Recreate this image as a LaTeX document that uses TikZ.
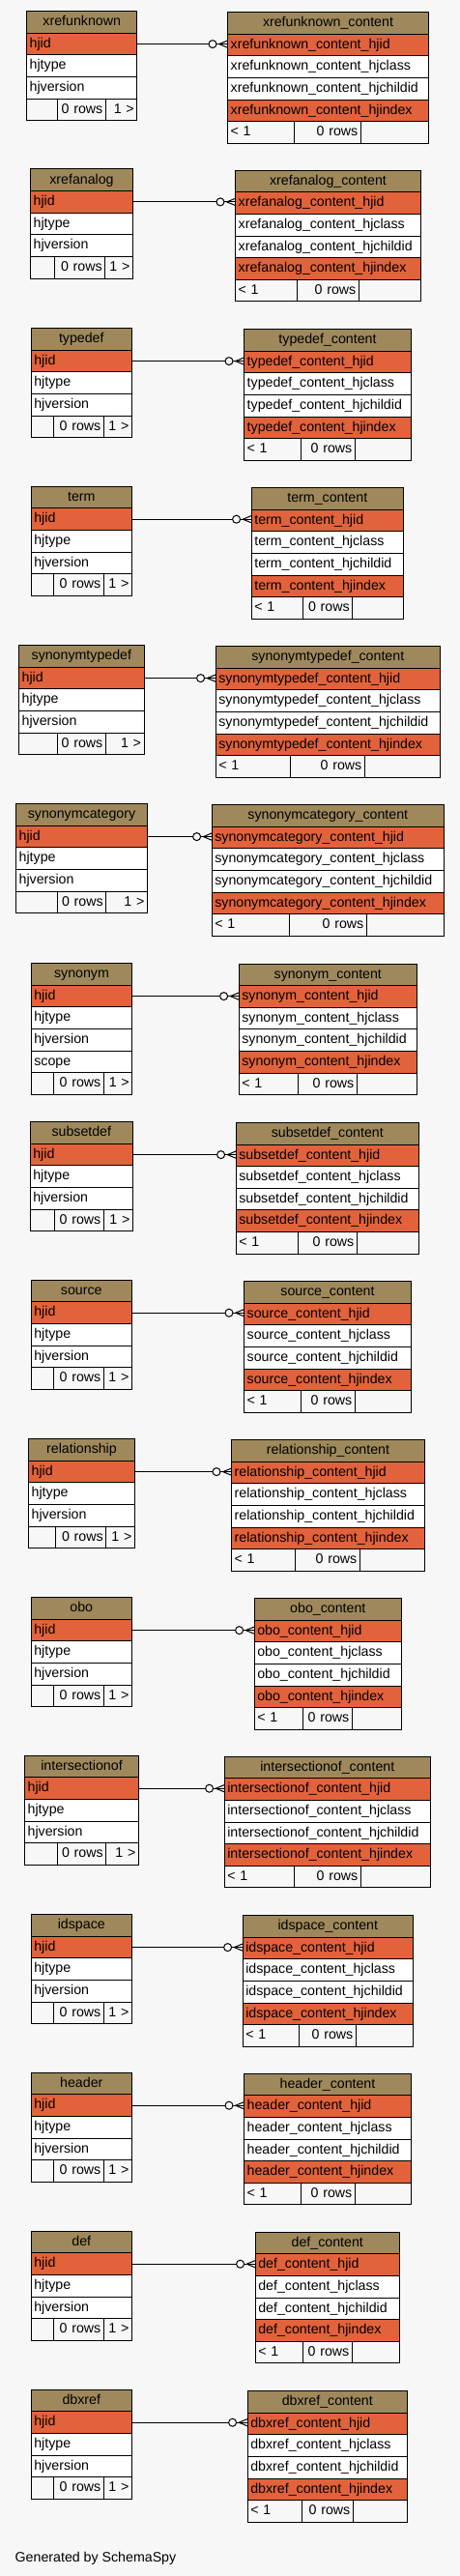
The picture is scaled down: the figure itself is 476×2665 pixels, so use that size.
\documentclass[tikz,border=0pt]{standalone}
\usepackage{fontspec}
\setmainfont{Liberation Sans}
\hyphenpenalty=10000

\definecolor{bgcol}{HTML}{F7F7F7}
\definecolor{headcol}{HTML}{9F895C}
\definecolor{keycol}{HTML}{E2623B}

\tikzset{
    cell/.style={draw, line width=1pt, outer sep=0pt, inner xsep=3pt, inner ysep=0pt,
        minimum height=22.6pt, text height=10.5pt, text depth=3pt,
        font=\fontsize{14.2pt}{17pt}\selectfont},
    headcell/.style={cell, fill=headcol, align=center},
    rowcell/.style={cell, align=left},
    footcell/.style={cell, fill=bgcol},
    link/.style={line width=1pt},
}

% header and column rows of one table
\newcommand\tablebody[6]{%
    \pgfmathsetmacro\tw{#4-#3-6}
    \node[headcell, text width=\tw pt, anchor=north west] (#1-0) at (#3,#5) {#2};
    \foreach \txt/\col [count=\i, remember=\i as \j (initially 0)] in {#6} {
        \node[rowcell, fill=\col, text width=\tw pt, anchor=north west] (#1-\i) at (#1-\j.south west) {\txt};
        \xdef\lastrow{#1-\i}
    }
}
% footer with its three cells
\newcommand\tablefoot[8]{%
    \pgfmathsetmacro\wa{#4-#2-6}
    \pgfmathsetmacro\wb{#5-#4-6}
    \pgfmathsetmacro\wc{#3-#5-6}
    \node[footcell, text width=\wa pt, align=left, anchor=north west] (#1-fa) at (\lastrow.south west) {#6};
    \node[footcell, text width=\wb pt, align=right, anchor=north west] (#1-fb) at (#1-fa.north east) {#7};
    \node[footcell, text width=\wc pt, align=right, anchor=north west] (#1-fc) at (#1-fb.north east) {#8};
}
\newcommand\basetable[7][]{%
    \tablebody{#2}{#2}{#3}{#4}{#7}{hjid/keycol,hjtype/white,hjversion/white#1}
    \tablefoot{#2}{#3}{#4}{#5}{#6}{}{0 rows}{1 >}
}
\newcommand\contenttable[6]{%
    \tablebody{#1c}{#1\_content}{#2}{#3}{#6}{#1\_content\_hjid/keycol,#1\_content\_hjclass/white,#1\_content\_hjchildid/white,#1\_content\_hjindex/keycol}
    \tablefoot{#1c}{#2}{#3}{#4}{#5}{< 1}{0 rows}{}
}
% one-to-many link: circle and crow's foot at the content table
\newcommand\crowlink[2]{%
    \draw[link] (#1.east) -- (#1.east -| #2.west) coordinate (#2-tip);
    \draw[link, fill=bgcol] ([xshift=-15.7pt]#2-tip) circle[radius=4pt];
    \draw[link] ([yshift=3.7pt]#2-tip) -- ([xshift=-9pt]#2-tip) -- ([yshift=-3.7pt]#2-tip);
}

\begin{document}
\begin{tikzpicture}[x=1pt, y=-1pt]
    \fill[bgcol] (0,0) rectangle (476,2665);
    \useasboundingbox (0,0) rectangle (476,2665);

    \foreach \nm/\lxa/\lxb/\lca/\lcb/\ltop/\rxa/\rxb/\rca/\rcb/\rtop in {
        xrefunknown/27.7/141.7/59.3/109.3/11.7/235.7/443.3/304.3/373.3/12.7,
        xrefanalog/31.7/137.3/56.7/108.7/175/243.7/435.3/307/371.3/176.3,
        typedef/32.3/136.3/55.3/107.3/339.7/252.7/425.3/311.3/367.3/340.7,
        term/32.3/136.3/55.3/107.3/503.3/260.3/417.3/313.3/364.7/504.7,
        synonymtypedef/19.7/149/59.7/109.3/667.7/223.3/455.3/300.7/377.3/668.7,
        synonymcategory/16.7/152.3/59.3/109.7/831.7/219.3/459.3/299.3/379.3/832.7,
        subsetdef/31.3/137.3/56.7/107.3/1160.7/244.3/433.3/308.7/369.3/1161.5,
        source/32.3/136.3/55.3/107.3/1324.3/252.7/425.3/311.3/367.3/1325.7,
        relationship/29.7/139.3/57.3/109.7/1488.7/239.7/439.3/305.3/372.3/1489.7,
        obo/32.3/136.3/55.3/107.3/1652.7/263.3/415.3/313.3/364.3/1653.7,
        intersectionof/25.7/143.3/59.3/109.7/1816.3/232.3/445.3/304.3/373.3/1817.3,
        idspace/32.3/136.3/55.3/107.3/1980.7/251.3/427.3/309.3/368.3/1981.7,
        header/32.3/136.3/55.3/107.3/2144.3/252.7/425.3/311.3/367.3/2145.3,
        def/32.3/136.3/55.3/107.3/2308.3/264.3/413.3/313.3/364.3/2309.3,
        dbxref/32.3/136.3/55.3/107.3/2472.3/256.3/421.3/312.3/365.3/2473.7} {
        \basetable{\nm}{\lxa}{\lxb}{\lca}{\lcb}{\ltop}
        \contenttable{\nm}{\rxa}{\rxb}{\rca}{\rcb}{\rtop}
        \crowlink{\nm-1}{\nm c-1}
    }

    % synonym has one more column
    \basetable[,scope/white]{synonym}{32.3}{136.7}{55.3}{107.3}{996.7}
    \contenttable{synonym}{247.3}{431.3}{308.3}{369.3}{997}
    \crowlink{synonym-1}{synonymc-1}

    \node[anchor=base west, inner sep=0pt, font=\fontsize{14.2pt}{17pt}\selectfont] (credit) at (15.5,2650.5) {Generated by SchemaSpy};
\end{tikzpicture}
\end{document}
